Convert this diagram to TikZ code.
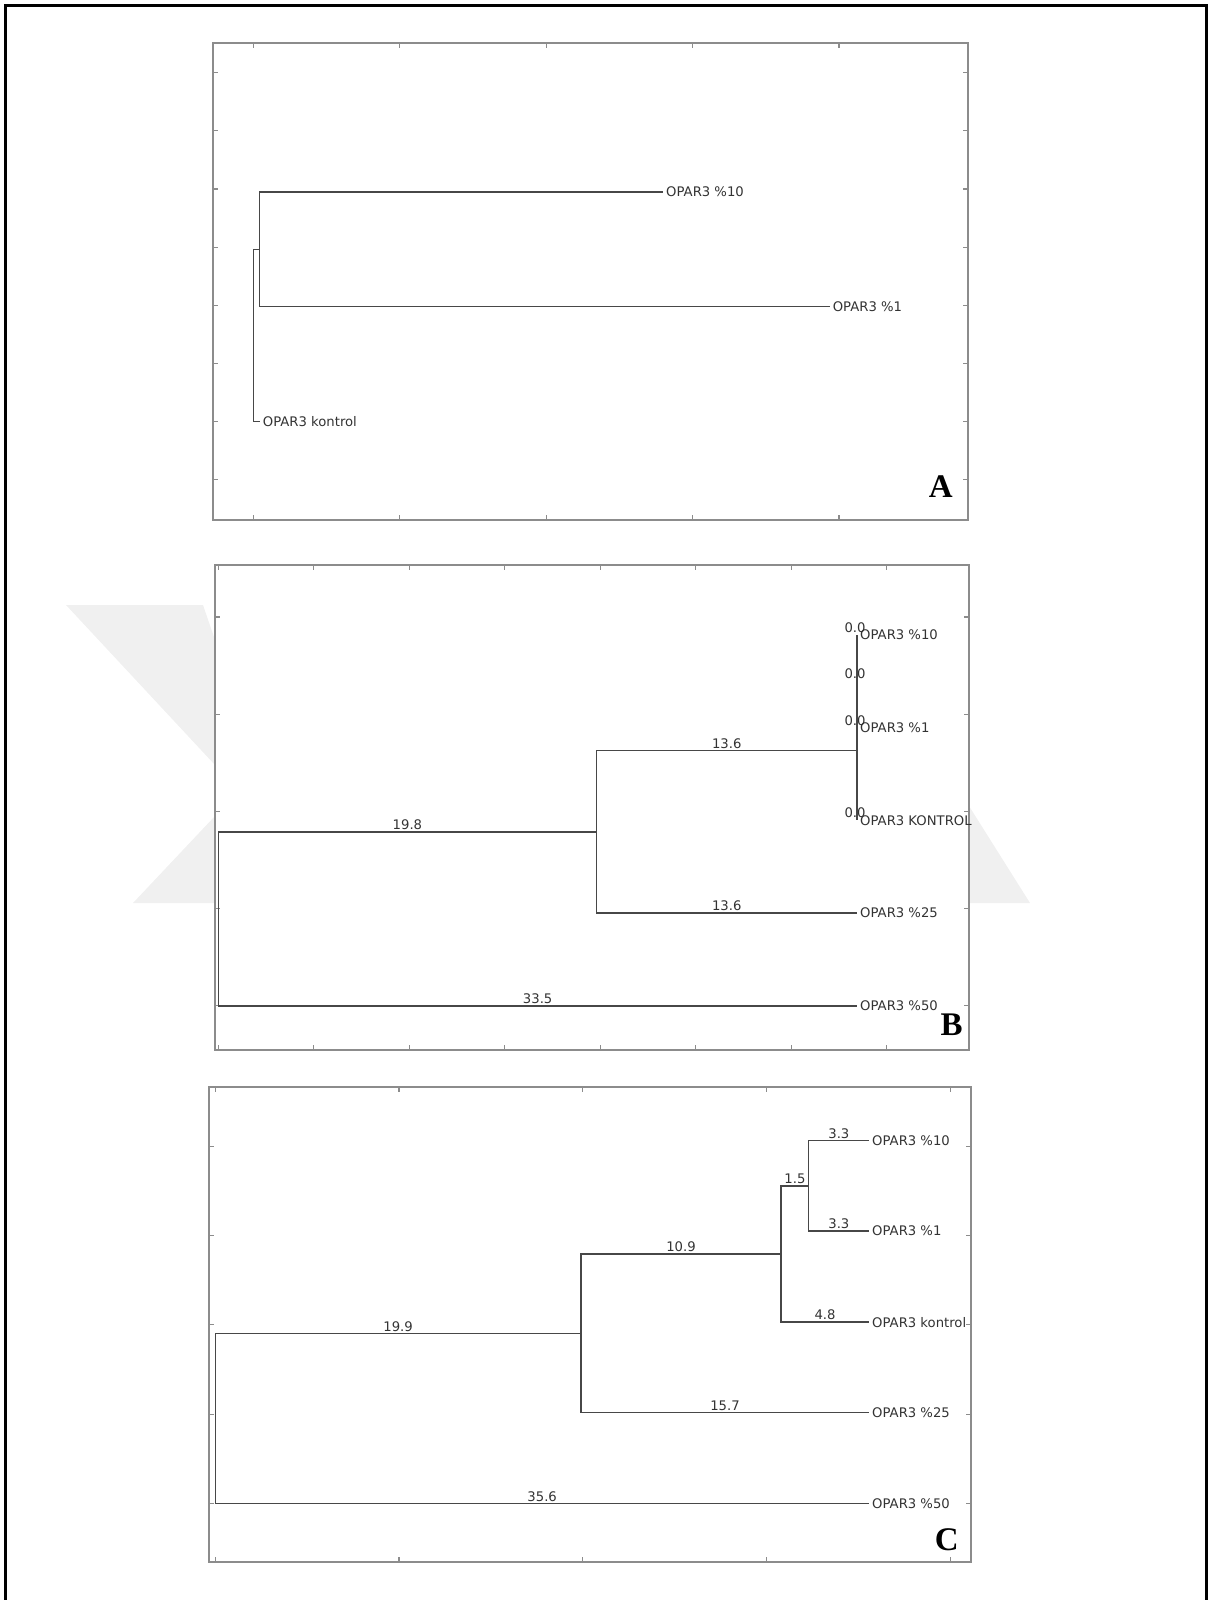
\documentclass[tikz,border=0pt]{standalone}
\usepackage{fontspec}
\newfontfamily\plotfont{DejaVu Sans}
\newfontfamily\panelfont{Liberation Serif}
\usetikzlibrary{positioning, calc}

\tikzset{
  axesbox/.style={draw=black!45, line width=1.8, fill=white},
  tickmark/.style={draw=black!45, line width=1.2},
  branch/.style={draw=black!72, line width=1.5},
  leaf/.style={anchor=west, inner xsep=3, inner ysep=0, text depth=0pt,
    font=\plotfont\fontsize{13.2}{15}\selectfont, text=black!80},
  blabel/.style={anchor=south, inner sep=1.5, text depth=0pt,
    font=\plotfont\fontsize{13.2}{15}\selectfont, text=black!80},
  zlabel/.style={blabel, xshift=-2},
  panel/.style={inner sep=0, font=\panelfont\bfseries\fontsize{33}{36}\selectfont},
  watermark/.style={fill=black!6, draw=none},
}

\begin{document}
\begin{tikzpicture}[x=1pt, y=-1pt]
  \useasboundingbox (0,0) rectangle (1208,1600);

  % outer frame, open at the bottom
  \draw[line width=2.7] (5.3,1610) -- (5.3,5.3) -- (1206.6,5.3) -- (1206.6,1610);

  % faint watermark behind panel B
  \fill[watermark] (66,605) -- (203,605) -- (215,640) -- (215,765) -- cycle;
  \fill[watermark] (133,903) -- (215,903) -- (215,816) -- cycle;
  \fill[watermark] (969,806) -- (1030,903) -- (969,903) -- cycle;

  %% panel A
  \coordinate (a-sw) at (213,520);
  \coordinate (a-ne) at (967.7,43.3);
  \draw[axesbox] (a-sw) rectangle (a-ne);
  \foreach \x in {253.3,399.7,546.1,692.5,838.9} {
    \draw[tickmark] (\x,520) -- ++(0,-5) (\x,43.3) -- ++(0,5);
  }
  \foreach \y in {72.8,130.9,189,247.1,305.2,363.3,421.4,479.5} {
    \draw[tickmark] (213,\y) -- ++(5,0) (967.7,\y) -- ++(-5,0);
  }
  % clades and leaves
  \coordinate (a-root) at (253.3,335.3);
  \coordinate (a-in) at (259.7,249.25);
  \node[leaf] (a-l10) at (663,192) {OPAR3 \%10};
  \node[leaf] (a-l1) at (829.6,306.5) {OPAR3 \%1};
  \node[leaf] (a-lk) at (259.7,421.4) {OPAR3 kontrol};
  \draw[branch] (a-root) |- (a-in);
  \draw[branch] (a-root) |- (a-lk.west);
  \draw[branch] (a-in) |- (a-l10.west);
  \draw[branch] (a-in) |- (a-l1.west);
  \node[panel] (a-tag) at (940.7,486.7) {A};

  %% panel B
  \coordinate (b-sw) at (215,1050);
  \coordinate (b-ne) at (969.3,565);
  \draw[axesbox] (b-sw) rectangle (b-ne);
  \foreach \k in {0,...,7} {
    \draw[tickmark] ({218.3+95.5*\k},1050) -- ++(0,-5)
      ({218.3+95.5*\k},565) -- ++(0,5);
  }
  \foreach \k in {0,...,4} {
    \draw[tickmark] (215,{1005.8-97.2*\k}) -- ++(5,0)
      (969.3,{1005.8-97.2*\k}) -- ++(-5,0);
  }
  % clades and leaves
  \coordinate (b-root) at (218.3,918.8);
  \coordinate (b-n1) at (596.5,831.8);
  \coordinate (b-z0) at (857,750.6);
  \coordinate (b-z1) at (857,681);
  \node[leaf] (b-l10) at (857,634.6) {OPAR3 \%10};
  \node[leaf] (b-l1) at (857,727.4) {OPAR3 \%1};
  \node[leaf] (b-lk) at (857,820.2) {OPAR3 KONTROL};
  \node[leaf] (b-l25) at (857,913) {OPAR3 \%25};
  \node[leaf] (b-l50) at (857,1005.8) {OPAR3 \%50};
  \draw[branch] (b-root) |- node[blabel, pos=.75] (b-e1) {19.8} (b-n1);
  \draw[branch] (b-root) |- node[blabel, pos=.75] (b-e2) {33.5} (b-l50.west);
  \draw[branch] (b-n1) |- node[blabel, pos=.75] (b-e3) {13.6} (b-z0);
  \draw[branch] (b-n1) |- node[blabel, pos=.75] (b-e4) {13.6} (b-l25.west);
  \draw[branch] (b-z0) |- node[zlabel, pos=.75] (b-e5) {0.0} (b-z1);
  \draw[branch] (b-z0) |- node[zlabel, pos=.75] (b-e6) {0.0} (b-lk.west);
  \draw[branch] (b-z1) |- node[zlabel, pos=.75] (b-e7) {0.0} (b-l10.west);
  \draw[branch] (b-z1) |- node[zlabel, pos=.75] (b-e8) {0.0} (b-l1.west);
  \node[panel] (b-tag) at (951.7,1024.3) {B};

  %% panel C
  \coordinate (c-sw) at (209.3,1561.7);
  \coordinate (c-ne) at (970.7,1087.3);
  \draw[axesbox] (c-sw) rectangle (c-ne);
  \foreach \k in {0,...,4} {
    \draw[tickmark] ({215.3+183.7*\k},1561.7) -- ++(0,-5)
      ({215.3+183.7*\k},1087.3) -- ++(0,5);
    \draw[tickmark] (209.3,{1503.4-89.3*\k}) -- ++(5,0)
      (970.7,{1503.4-89.3*\k}) -- ++(-5,0);
  }
  % clades and leaves
  \coordinate (c-root) at (215.3,1418.4);
  \coordinate (c-n1) at (580.9,1333.3);
  \coordinate (c-n2) at (781.1,1254);
  \coordinate (c-n3) at (808.7,1185.9);
  \node[leaf] (c-l10) at (869,1140.7) {OPAR3 \%10};
  \node[leaf] (c-l1) at (869,1231) {OPAR3 \%1};
  \node[leaf] (c-lk) at (869,1322) {OPAR3 kontrol};
  \node[leaf] (c-l25) at (869,1412.7) {OPAR3 \%25};
  \node[leaf] (c-l50) at (869,1503.4) {OPAR3 \%50};
  \draw[branch] (c-root) |- node[blabel, pos=.75] (c-e1) {19.9} (c-n1);
  \draw[branch] (c-root) |- node[blabel, pos=.75] (c-e2) {35.6} (c-l50.west);
  \draw[branch] (c-n1) |- node[blabel, pos=.75] (c-e3) {10.9} (c-n2);
  \draw[branch] (c-n1) |- node[blabel, pos=.75] (c-e4) {15.7} (c-l25.west);
  \draw[branch] (c-n2) |- node[blabel, pos=.75] (c-e5) {1.5} (c-n3);
  \draw[branch] (c-n2) |- node[blabel, pos=.75] (c-e6) {4.8} (c-lk.west);
  \draw[branch] (c-n3) |- node[blabel, pos=.75] (c-e7) {3.3} (c-l10.west);
  \draw[branch] (c-n3) |- node[blabel, pos=.75] (c-e8) {3.3} (c-l1.west);
  \node[panel] (c-tag) at (946.7,1540) {C};
\end{tikzpicture}
\end{document}
